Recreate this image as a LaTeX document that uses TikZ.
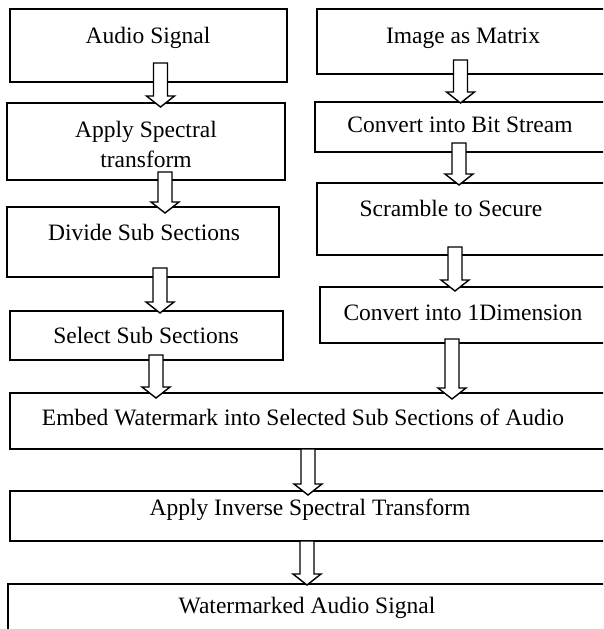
\documentclass[tikz,border=0pt]{standalone}
\usepackage{fontspec}
\setmainfont{Liberation Serif}
\usetikzlibrary{calc}

\tikzset{
  stagebox/.style={draw=black, line width=1.6pt, inner sep=0pt, outer sep=0pt, anchor=north west},
  stagetext/.style={anchor=base, inner sep=0pt, font=\fontsize{23.5}{30}\selectfont, align=center},
  flowarrowstyle/.style={draw=black, fill=white, line width=1.4pt, line join=miter},
}

% hollow block arrow: x position, source node, rise into source, target node, overlap into target
\newcommand\flowarrow[5]{%
  \path ($(#1,0 |- #2.south)+(0,-#3)$) coordinate (fa-s)
        ($(#1,0 |- #4.north)+(0,#5)$) coordinate (fa-e);
  \draw[flowarrowstyle] let \p1=(fa-s), \p2=(fa-e) in
    (\x1-7pt,\y1) -- (\x1+7pt,\y1) -- (\x1+7pt,\y2+11pt) -- (\x1+14pt,\y2+11pt)
    -- (\x1,\y2) -- (\x1-14pt,\y2+11pt) -- (\x1-7pt,\y2+11pt) -- cycle;
}

\begin{document}
\begin{tikzpicture}[x=1pt, y=-1pt]
\useasboundingbox (0,0) rectangle (603,629);
\clip (0,0) rectangle (603,629);

% left column: audio processing
\node[stagebox, minimum width=277pt, minimum height=73pt] (audio)    at (10,9)   {};
\node[stagebox, minimum width=278pt, minimum height=77pt] (apply)    at (7,103)  {};
\node[stagebox, minimum width=272pt, minimum height=70pt] (divide)   at (7,207)  {};
\node[stagebox, minimum width=273pt, minimum height=49pt] (select)   at (10,311) {};

% right column: watermark image preparation
\node[stagebox, minimum width=295pt, minimum height=65pt] (image)    at (317,9)   {};
\node[stagebox, minimum width=297pt, minimum height=50pt] (bits)     at (315,102) {};
\node[stagebox, minimum width=295pt, minimum height=72pt] (scramble) at (317,183) {};
\node[stagebox, minimum width=292pt, minimum height=56pt] (onedim)   at (320,287) {};

% full-width stages
\node[stagebox, minimum width=602pt, minimum height=56pt] (embed)    at (10,393) {};
\node[stagebox, minimum width=602pt, minimum height=50pt] (inverse)  at (10,491) {};
\node[stagebox, minimum width=604pt, minimum height=66pt] (marked)   at (8,584)  {};

% stage labels (base of a two-line label is its last line)
\node[stagetext] (audio-t)    at (148,43)  {Audio Signal};
\node[stagetext] (apply-t)    at (146,167) {Apply Spectral\\transform};
\node[stagetext] (divide-t)   at (144,240) {Divide Sub Sections};
\node[stagetext] (select-t)   at (146,343) {Select Sub Sections};
\node[stagetext] (image-t)    at (463,43)  {Image as Matrix};
\node[stagetext] (bits-t)     at (460,132) {Convert into Bit Stream};
\node[stagetext] (scramble-t) at (451,216) {Scramble to Secure};
\node[stagetext] (onedim-t)   at (463,320) {Convert into 1Dimension};
\node[stagetext] (embed-t)    at (303,425) {Embed Watermark into Selected Sub Sections of Audio};
\node[stagetext] (inverse-t)  at (310,515) {Apply Inverse Spectral Transform};
\node[stagetext] (marked-t)   at (307,613) {Watermarked Audio Signal};

% flow arrows
\flowarrow{160.5}{audio}{19}{apply}{4}
\flowarrow{165}{apply}{8}{divide}{6}
\flowarrow{160}{divide}{9}{select}{2}
\flowarrow{156}{select}{5}{embed}{5}
\flowarrow{460.5}{image}{14}{bits}{1}
\flowarrow{459}{bits}{9}{scramble}{2}
\flowarrow{455}{scramble}{8}{onedim}{4}
\flowarrow{452}{onedim}{4}{embed}{6}
\flowarrow{308}{embed}{0}{inverse}{4}
\flowarrow{307}{inverse}{0}{marked}{1}
\end{tikzpicture}
\end{document}
